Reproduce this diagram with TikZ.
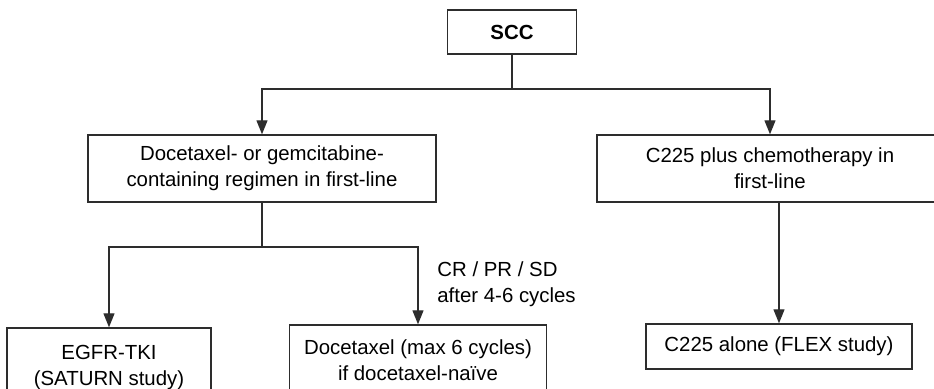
\documentclass[tikz,border=0pt]{standalone}
\usepackage{fontspec}
\setmainfont{Liberation Sans}
\usetikzlibrary{arrows.meta,positioning}
\definecolor{LineGray}{RGB}{45,45,45}

\begin{document}
\begin{tikzpicture}[x=0.5pt,y=0.5pt,>={Triangle[length=7pt,width=5.5pt]},every node/.style={font=\fontsize{10.2}{13}\selectfont}]
\tikzset{box/.style={draw=LineGray,line width=0.7pt,inner sep=0pt,align=center,minimum height=33.5pt},
  link/.style={draw=LineGray,line width=0.65pt}}
\useasboundingbox (0,0) rectangle (934,388);
\node[box,minimum width=64.5pt,minimum height=22pt,font=\fontsize{10.2}{13}\selectfont\bfseries] (scc) at (512,356) {SCC};
\node[box,minimum width=174pt] (first) at (262,219.5) {Docetaxel- or gemcitabine-\\containing regimen in first-line};
\node[box,minimum width=173pt] (cetux) at (770,219.5) {C225 plus chemotherapy in\\first-line};
\node[box,minimum width=102pt,minimum height=39.5pt] (egfr) at (109,20.5) {EGFR-TKI\\(SATURN study)};
\node[box,minimum width=128.5pt,minimum height=35.5pt] (doce) at (418,27.5) {Docetaxel (max 6 cycles)\\if docetaxel-na\"ive};
\node[box,minimum width=133pt,minimum height=22.5pt] (alone) at (779,41.5) {C225 alone (FLEX study)};
\node[anchor=west,align=left,inner sep=0pt] (resp) at (437,104) {CR / PR / SD\\after 4-6 cycles};
\coordinate (fork) at (512,299);
\coordinate (fork2) at (262,141);
\draw[link] (scc.south)--(fork);
\draw[link,->] (fork)-|(first.north);
\draw[link,->] (fork)-|(cetux.north);
\draw[link] (first.south)--(fork2);
\draw[link,->] (fork2)-|(egfr.north);
\draw[link,->] (fork2)-|(doce.north);
\draw[link,->] (cetux.south -| alone.north)--(alone.north);
\end{tikzpicture}
\end{document}
